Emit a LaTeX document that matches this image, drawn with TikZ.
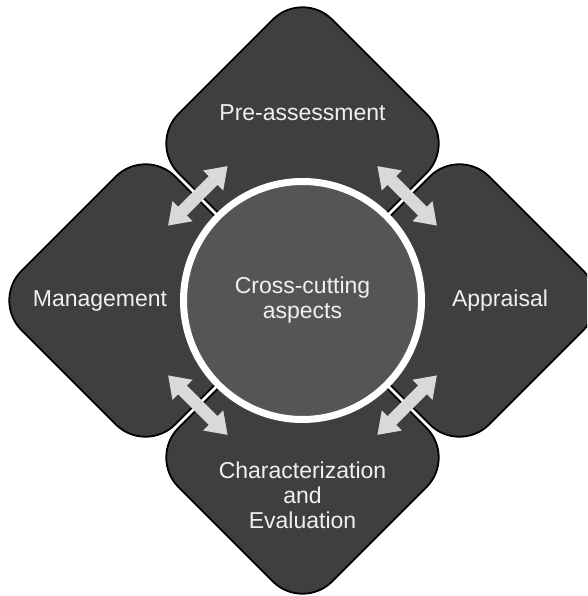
\documentclass[tikz,border=0pt]{standalone}
\usepackage{fontspec}
\setmainfont{Liberation Sans}
\usetikzlibrary{calc,shapes.geometric,shapes.arrows}

\begin{document}
\begin{tikzpicture}[
  x=1pt,
  y=1pt,
  phase/.style={diamond, draw=black, line width=1.8pt, fill=phasegray,
    minimum width=308pt, minimum height=308pt, inner sep=0pt, rounded corners=42pt},
  hubnode/.style={circle, draw=white, line width=7pt, fill=hubgray,
    minimum size=238pt, inner sep=0pt},
  link/.style={double arrow, fill=linkgray, rotate=#1, inner xsep=0pt, inner ysep=6pt,
    minimum height=84pt, double arrow head extend=8pt, double arrow tip angle=70},
  every node/.style={font=\fontsize{23}{25}\selectfont, text=textgray, align=center}
]
\definecolor{phasegray}{RGB}{63,63,63}
\definecolor{hubgray}{RGB}{85,85,85}
\definecolor{linkgray}{RGB}{217,217,217}
\definecolor{textgray}{RGB}{240,240,240}

\clip (-302.5,-295.5) rectangle (284.5,300.5);

% the four phases around the hub
\node[phase] (pre)  at (0,157)  {};
\node[phase] (appr) at (157,0)  {};
\node[phase] (char) at (0,-157) {};
\node[phase] (mgmt) at (-157,0) {};

\node (pre-txt)  at ($(pre)+(0,31)$)     {Pre-assessment};
\node (appr-txt) at ($(appr)+(40.5,0)$)  {Appraisal};
\node (char-txt) at ($(char)+(0,-37.5)$) {Characterization\\and\\Evaluation};
\node (mgmt-txt) at ($(mgmt)+(-45.5,0)$) {Management};

% centre circle
\node[hubnode] (hub) at (0,0) {Cross-cutting\\aspects};

% two-way links across the gaps
\foreach \a/\n in {45/ne,135/nw,225/sw,315/se}
  \node[link=\a+90] (\n-link) at ($(hub)+(\a:148)$) {};
\end{tikzpicture}
\end{document}
